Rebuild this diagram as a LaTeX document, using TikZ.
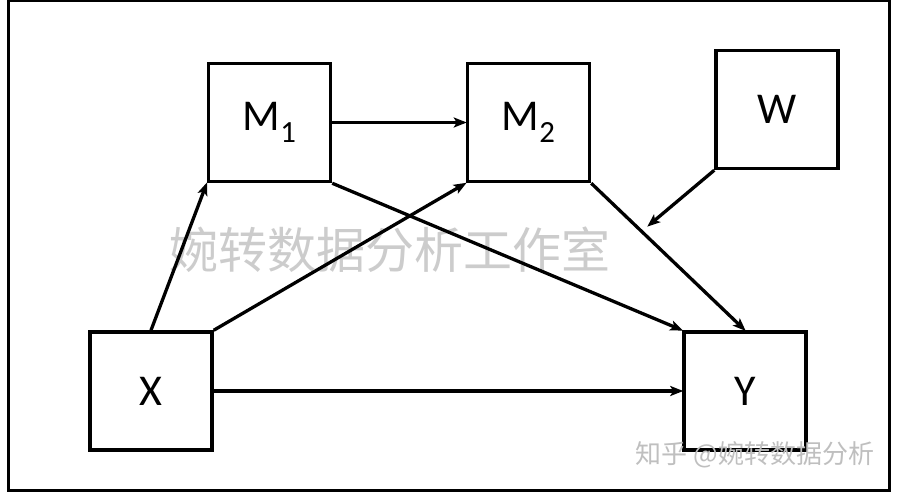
\documentclass[tikz,border=0pt]{standalone}
\usepackage{fontspec}
\setmainfont{Carlito}
\newfontfamily\cjk{Noto Sans CJK SC}
\usetikzlibrary{arrows.meta}
\begin{document}
\begin{tikzpicture}[x=1pt,y=-1pt,
  box/.style={draw=black,line width=3.5pt,minimum width=122pt,minimum height=118pt,inner sep=0pt,font=\fontsize{44}{48}\selectfont},
  conn/.style={line width=3.3pt,-{Stealth[length=13pt,width=10pt,inset=3pt]},shorten >=-1pt},
  wm/.style={text=black!20,inner sep=0pt}]
\useasboundingbox (0,0) rectangle (900,492);
\fill[white] (0,0) rectangle (900,492);
\draw[line width=3pt] (8,1) rectangle (889,490);
\node[wm,font=\cjk\fontsize{49}{52}\selectfont] (wm1) at (390,250) {婉转数据分析工作室};
\node[box] (M1) at (269.5,122.5) {M\textsubscript{1}};
\node[box] (M2) at (528.5,122.5) {M\textsubscript{2}};
\node[box] (W) at (777,109.5) {W};
\node[box] (X) at (151,391) {X};
\node[box] (Y) at (745,391) {Y};
\coordinate (wt) at (648,226);
\draw[conn] (X.north) -- (M1.south west);
\draw[conn] (X.north east) -- (M2.south west);
\draw[conn] (X.east) -- (Y.west);
\draw[conn] (M1.east) -- (M2.west);
\draw[conn] (M1.south east) -- (Y.north west);
\draw[conn] (M2.south east) -- (Y.north);
\draw[conn] (W.south west) -- (wt);
\node[wm,text=black!25,font=\cjk\fontsize{26}{28}\selectfont] (wm2) at (755,455) {知乎 @婉转数据分析};
\end{tikzpicture}
\end{document}
